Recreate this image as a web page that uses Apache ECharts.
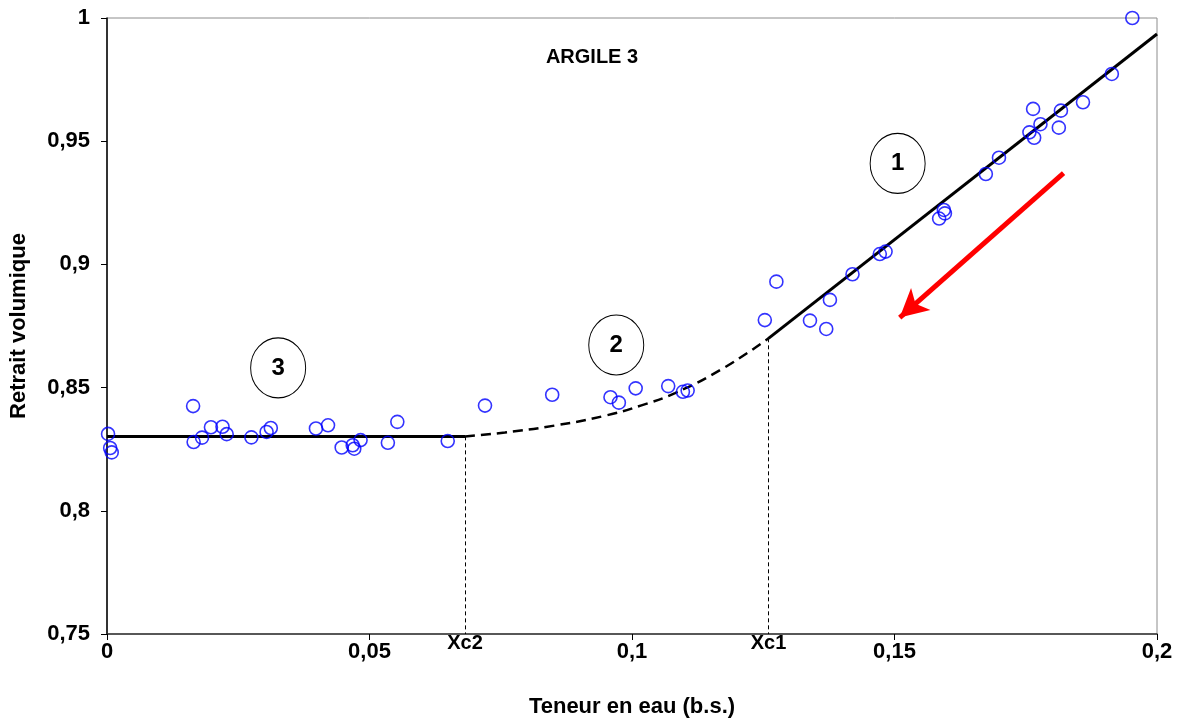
<!DOCTYPE html>
<html>
<head>
<meta charset="utf-8">
<script src="https://cdn.jsdelivr.net/npm/echarts@6/dist/echarts.min.js"></script>
<style>html,body{margin:0;padding:0;background:#fff;}#chart{width:1179px;height:724px;}</style>
</head>
<body>
<div id="chart"></div>
<script>
// Observed points: water content (x) and volumetric shrinkage (y)
const waterContent = [0.0002,0.0006,0.0009,0.0164,0.0165,0.0181,0.0198,0.0220,0.0228,0.0275,0.0304,0.0312,0.0398,0.0421,0.0447,0.0468,0.0471,0.0483,0.0535,0.0553,0.0649,
  0.0720,0.0848,0.0959,0.0975,0.1007,0.1069,0.1097,0.1106,
  0.1253,0.1275,0.1339,0.1370,0.1377,0.1420,0.1472,0.1483,0.1585,0.1594,0.1596,0.1674,0.1699,0.1757,0.1764,0.1766,0.1778,0.1813,0.1817,0.1859,0.1914,0.1953];
const shrinkage = [0.8312,0.8255,0.8237,0.8425,0.8279,0.8297,0.8339,0.8341,0.8311,0.8298,0.8320,0.8336,0.8334,0.8347,0.8257,0.8266,0.8252,0.8287,0.8276,0.8361,0.8283,
  0.8427,0.8471,0.8461,0.8439,0.8497,0.8506,0.8483,0.8488,
  0.8774,0.8930,0.8772,0.8738,0.8856,0.8960,0.9042,0.9052,0.9186,0.9221,0.9207,0.9367,0.9433,0.9536,0.9631,0.9514,0.9569,0.9555,0.9624,0.9658,0.9773,1.0000];

// Fitted segments
const xc2 = 0.0682, xc1 = 0.1260;
const plateauX = [0, xc2];
const plateauY = [0.8302, 0.8302];
const curveX = [0.0682, 0.0758, 0.0853, 0.0949, 0.1018, 0.1082, 0.1171, 0.1260];
const curveY = [0.8302, 0.8318, 0.8346, 0.8386, 0.8428, 0.8478, 0.8575, 0.8700];
const linearX = [0.1260, 0.2];
const linearY = [0.8700, 0.9935];

// Annotations (zone numbers), arrow
const zoneLabels = ['1', '2', '3'];
const zoneX = [0.1506, 0.0970, 0.0326];
const zoneY = [0.9410, 0.8673, 0.8580];
const arrowFrom = [0.1822, 0.9370];
const arrowTo = [0.1510, 0.8784];

const xTicks = [0, 0.05, 0.1, 0.15, 0.2];
const yTicks = [0.75, 0.8, 0.85, 0.9, 0.95, 1];

const FONT = '"Liberation Sans", Arial, sans-serif';
const fmt = v => String(+(+v).toFixed(4)).replace('.', ',');
const zip = (a, b) => a.map((v, i) => [v, b[i]]);

const zoneLabelStyle = { show: true, position: 'inside', formatter: '{b}', fontFamily: FONT, fontWeight: 'bold', fontSize: 24, color: '#000', opacity: 1, textBorderWidth: 0 };

const chart = echarts.init(document.getElementById('chart'));
chart.setOption({
  animation: false,
  backgroundColor: '#fff',
  title: {
    text: 'ARGILE 3', left: 587, top: 42, textAlign: 'center',
    textStyle: { fontFamily: FONT, fontWeight: 'bold', fontSize: 20, color: '#000' }
  },
  grid: { left: 107, right: 22, top: 18, bottom: 90, show: true, borderColor: '#8c8c8c', borderWidth: 1, backgroundColor: '#fff' },
  xAxis: {
    type: 'value', min: xTicks[0], max: xTicks[xTicks.length - 1], interval: 0.05,
    name: 'Teneur en eau (b.s.)', nameLocation: 'middle', nameGap: 62,
    nameTextStyle: { fontFamily: FONT, fontWeight: 'bold', fontSize: 22, color: '#000' },
    axisLine: { show: true, lineStyle: { color: '#333', width: 1.5 } },
    axisTick: { show: true, inside: false, length: 6, lineStyle: { color: '#000' } },
    axisLabel: { formatter: fmt, margin: 7, fontFamily: FONT, fontWeight: 'bold', fontSize: 22, color: '#000' },
    splitLine: { show: false }
  },
  yAxis: {
    type: 'value', min: yTicks[0], max: yTicks[yTicks.length - 1], interval: 0.05,
    name: 'Retrait volumique', nameLocation: 'middle', nameGap: 77, nameRotate: 90,
    nameTextStyle: { fontFamily: FONT, fontWeight: 'bold', fontSize: 22, color: '#000' },
    axisLine: { show: true, lineStyle: { color: '#000', width: 1.5 } },
    axisTick: { show: true, inside: false, length: 6, lineStyle: { color: '#000' } },
    axisLabel: { formatter: fmt, margin: 17, fontFamily: FONT, fontWeight: 'bold', fontSize: 22, color: '#000' },
    splitLine: { show: false }
  },
  series: [
    {
      type: 'line', data: zip(plateauX, plateauY), symbol: 'none',
      lineStyle: { color: '#000', width: 3 }, z: 3,
      markLine: {
        silent: true, symbol: 'none',
        lineStyle: { color: '#000', width: 1, type: [4, 3] },
        label: { show: true, position: 'end', distance: -1, formatter: '{b}',
          fontFamily: FONT, fontWeight: 'bold', fontSize: 20, color: '#000' },
        data: [
          [{ name: 'Xc2', coord: [xc2, plateauY[1]] }, { name: 'Xc2', coord: [xc2, yTicks[0]] }],
          [{ name: 'Xc1', coord: [xc1, curveY[curveY.length - 1]] }, { name: 'Xc1', coord: [xc1, yTicks[0]] }]
        ]
      }
    },
    {
      type: 'line', data: zip(curveX, curveY), symbol: 'none', smooth: true,
      lineStyle: { color: '#000', width: 2.5, type: [10, 6] }, z: 3
    },
    {
      type: 'line', data: zip(linearX, linearY), symbol: 'none',
      lineStyle: { color: '#000', width: 3 }, z: 3,
      markLine: {
        silent: true, symbol: ['none', 'arrow'], symbolSize: [22, 28],
        lineStyle: { color: '#ff0000', width: 5, type: 'solid' },
        label: { show: false },
        data: [[{ coord: arrowFrom }, { coord: arrowTo }]]
      }
    },
    {
      type: 'scatter', data: zip(waterContent, shrinkage), clip: false,
      symbol: 'circle', symbolSize: 13,
      itemStyle: { color: 'rgba(255,255,255,0)', borderColor: '#0000ff', borderWidth: 1.6 }, z: 4
    },
    {
      type: 'scatter', clip: false, silent: true,
      data: zoneLabels.map((t, i) => ({ value: [zoneX[i], zoneY[i]], name: t, label: zoneLabelStyle })),
      symbol: 'circle', symbolSize: [55, 60],
      itemStyle: { color: '#fff', borderColor: '#000', borderWidth: 1, opacity: 1 },
      label: zoneLabelStyle,
      emphasis: { disabled: true },
      z: 5
    }
  ]
});
</script>
</body>
</html>
